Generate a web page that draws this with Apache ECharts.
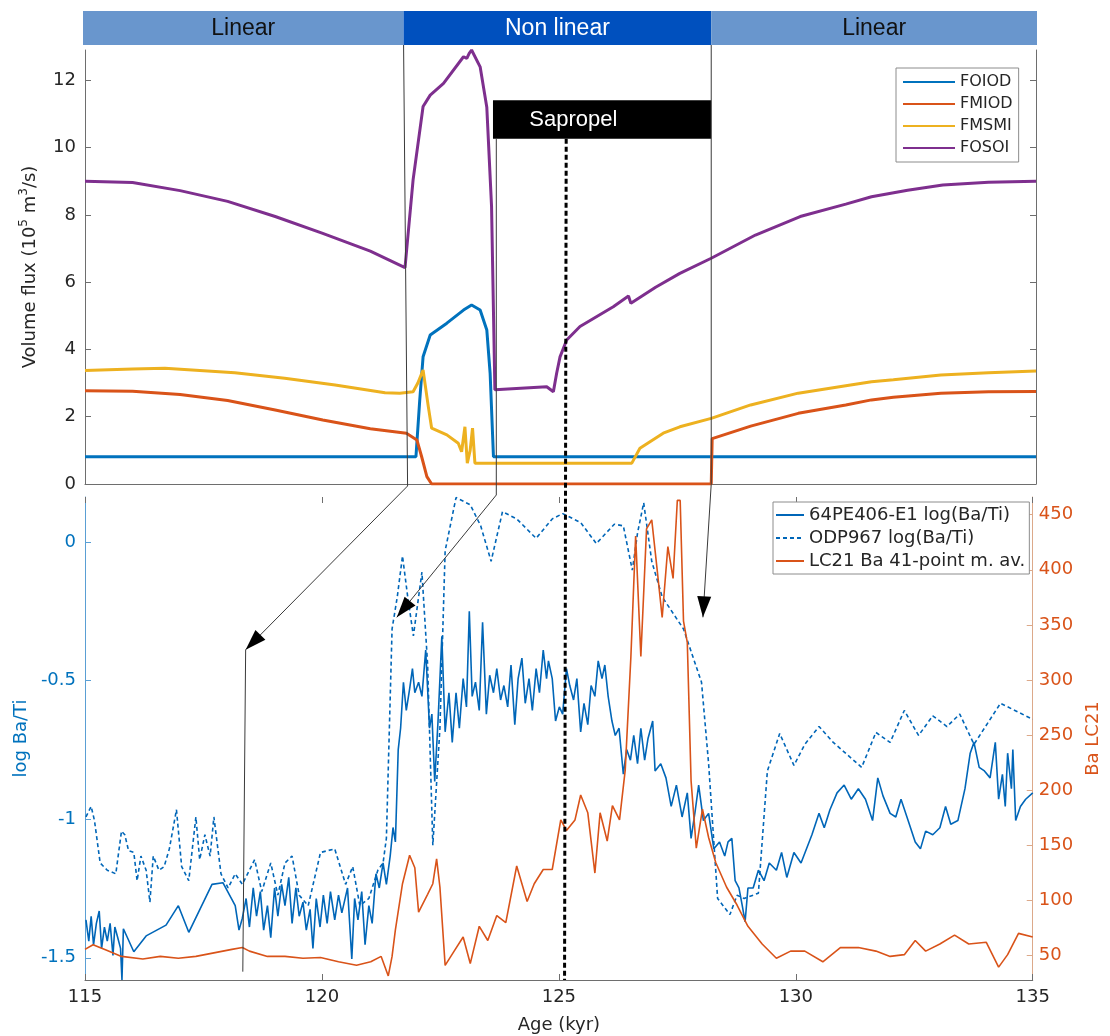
<!DOCTYPE html>
<html>
<head>
<meta charset="utf-8">
<script src="https://cdn.jsdelivr.net/npm/echarts@6/dist/echarts.min.js"></script>
<style>
html, body { margin: 0; padding: 0; background: #fff; }
#main { width: 1110px; height: 1036px; }
</style>
</head>
<body>
<div id="main"></div>
<script>
// 上图：体积通量 (10^5 m3/s)
var ageFOIOD = [115, 121.96, 122.04, 122.11, 122.26, 122.61, 122.96, 123.13, 123.31, 123.45, 123.52, 123.59, 135];
var valFOIOD = [0.81, 0.81, 2.5, 3.78, 4.43, 4.78, 5.17, 5.32, 5.17, 4.58, 3.29, 0.81, 0.81];

var ageFMIOD = [115, 116, 117, 118, 119, 120, 121, 121.76, 121.98, 122.08, 122.19, 122.29, 128.17, 128.19, 129, 130, 131, 131.54, 132, 133, 134, 135];
var valFMIOD = [2.77, 2.76, 2.66, 2.48, 2.2, 1.9, 1.64, 1.51, 1.31, 0.81, 0.22, 0, 0, 1.35, 1.72, 2.1, 2.35, 2.5, 2.58, 2.7, 2.74, 2.75];

var ageFMSMI = [115, 116, 116.68, 118.15, 119.2, 120.26, 121.31, 121.62, 121.9, 122.0, 122.11, 122.22, 122.29, 122.61, 122.85, 122.92, 122.99, 123.04, 123.1, 123.15, 123.2, 126.5, 126.67, 127.16, 127.51, 128.17, 129, 130, 131, 131.54, 132, 133, 134, 135];
var valFMSMI = [3.37, 3.42, 3.44, 3.31, 3.14, 2.94, 2.71, 2.7, 2.74, 3.0, 3.39, 2.3, 1.66, 1.46, 1.21, 0.96, 1.7, 0.62, 1.0, 1.66, 0.62, 0.62, 1.06, 1.51, 1.7, 1.95, 2.35, 2.7, 2.92, 3.04, 3.1, 3.24, 3.31, 3.36];

var ageFOSOI = [115, 116, 117, 118, 119, 120, 121, 121.73, 121.9, 122.11, 122.26, 122.54, 122.96, 123.03, 123.08, 123.13, 123.31, 123.45, 123.55, 123.62, 124.71, 124.85, 124.92, 124.99, 125.13, 125.41, 126.11, 126.43, 126.48, 127.0, 127.51, 128.17, 129.1, 130.04, 131, 131.54, 132.3, 133.04, 134, 135];
var valFOSOI = [9.0, 8.96, 8.72, 8.4, 7.95, 7.45, 6.92, 6.43, 9.04, 11.22, 11.56, 11.91, 12.7, 12.65, 12.8, 12.9, 12.4, 11.2, 8.25, 2.8, 2.89, 2.74, 3.3, 3.78, 4.28, 4.68, 5.27, 5.59, 5.37, 5.85, 6.26, 6.71, 7.4, 7.95, 8.32, 8.54, 8.73, 8.89, 8.97, 9.0];

// 下图：log(Ba/Ti) 与 LC21 Ba
var age64PE = [115.02, 115.08, 115.13, 115.18, 115.24, 115.30, 115.35, 115.41, 115.47, 115.53, 115.59, 115.63, 115.69, 115.75, 115.78, 115.81, 116.03, 116.29, 116.71, 116.97, 117.19, 117.68, 117.91, 118.17, 118.25, 118.32,
  118.40, 118.47, 118.55, 118.62, 118.70, 118.77, 118.85, 118.92, 119.00, 119.07, 119.15, 119.22, 119.30, 119.37, 119.45, 119.52, 119.60, 119.67, 119.75, 119.81, 119.88, 119.96, 120.03, 120.11, 120.18, 120.27, 120.35, 120.42, 120.54, 120.63, 120.69, 120.76, 120.84, 120.91, 120.99, 121.06, 121.14, 121.21, 121.29, 121.36, 121.44, 121.50, 121.55, 121.61, 121.66, 121.72, 121.78, 121.85, 121.91, 121.96,
  122.04, 122.11, 122.19, 122.27, 122.32, 122.38, 122.45, 122.53, 122.60, 122.68, 122.75, 122.83, 122.90, 122.98, 123.05, 123.11, 123.17, 123.24, 123.32, 123.39, 123.47, 123.54, 123.62, 123.69, 123.77, 123.84, 123.92, 123.99, 124.07, 124.14, 124.22, 124.29, 124.37, 124.44, 124.52, 124.59, 124.67, 124.74,
  124.78, 124.86, 124.93, 125.01, 125.08, 125.16, 125.23, 125.31, 125.38, 125.46, 125.53, 125.61, 125.68, 125.76, 125.83, 125.91, 125.97, 126.04, 126.12, 126.19, 126.27, 126.36, 126.43, 126.51, 126.58, 126.66, 126.73, 126.81, 126.88, 126.98, 127.03, 127.15, 127.26, 127.37, 127.48, 127.60, 127.71, 127.79, 127.88, 127.95, 128.05, 128.16, 128.27, 128.39, 128.50, 128.57, 128.65, 128.72, 128.80, 128.87, 128.93, 128.99,
  129.10, 129.21, 129.33, 129.44, 129.59, 129.70, 129.81, 129.96, 130.11, 130.34, 130.49, 130.60, 130.72, 130.87, 131.02, 131.17, 131.32, 131.47, 131.62, 131.73, 131.84, 131.99, 132.11, 132.22, 132.37, 132.52, 132.63, 132.74, 132.89, 133.04, 133.16, 133.27, 133.42, 133.57, 133.68, 133.76, 133.87, 133.98, 134.10, 134.21, 134.28, 134.36, 134.42, 134.47, 134.55, 134.58, 134.64, 134.74, 134.85, 135.00];
var val64PE = [-1.363, -1.44, -1.35, -1.453, -1.376, -1.331, -1.466, -1.389, -1.44, -1.376, -1.491, -1.389, -1.427, -1.466, -1.58, -1.395, -1.478, -1.421, -1.382, -1.312, -1.408, -1.235, -1.229, -1.312, -1.40, -1.357,
  -1.286, -1.389, -1.248, -1.35, -1.261, -1.40, -1.312, -1.427, -1.248, -1.35, -1.235, -1.312, -1.21, -1.376, -1.248, -1.35, -1.299, -1.40, -1.325, -1.466, -1.286, -1.389, -1.274, -1.376, -1.261, -1.363, -1.274, -1.338, -1.248, -1.504, -1.286, -1.363, -1.261, -1.453, -1.312, -1.376, -1.197, -1.248, -1.158, -1.235, -1.133, -1.03, -1.082, -0.749, -0.672, -0.506, -0.608, -0.531, -0.457, -0.544,
  -0.506, -0.557, -0.39, -0.672, -0.621, -0.864, -0.646, -0.34, -0.685, -0.544, -0.723, -0.544, -0.672, -0.493, -0.595, -0.25, -0.557, -0.506, -0.608, -0.29, -0.621, -0.481, -0.544, -0.457, -0.57, -0.518, -0.595, -0.444, -0.659, -0.493, -0.419, -0.582, -0.493, -0.608, -0.457, -0.544, -0.39, -0.493,
  -0.429, -0.493, -0.646, -0.595, -0.621, -0.457, -0.518, -0.57, -0.493, -0.685, -0.582, -0.659, -0.518, -0.557, -0.429, -0.493, -0.444, -0.557, -0.646, -0.698, -0.672, -0.838, -0.749, -0.787, -0.698, -0.80, -0.672, -0.787, -0.71, -0.646, -0.826, -0.80, -0.851, -0.954, -0.877, -0.992, -0.905, -1.069, -0.966, -0.877, -1.005, -0.979, -1.107, -1.082, -1.133, -1.082, -1.069, -1.222, -1.248, -1.312, -1.37, -1.248,
  -1.248, -1.184, -1.222, -1.158, -1.184, -1.12, -1.21, -1.12, -1.158, -1.056, -0.979, -1.031, -0.966, -0.905, -0.877, -0.928, -0.89, -0.928, -1.005, -0.851, -0.916, -0.979, -0.992, -0.928, -1.005, -1.082, -1.107, -1.043, -1.056, -1.031, -0.954, -1.018, -1.005, -0.89, -0.762, -0.723, -0.813, -0.826, -0.851, -0.723, -0.928, -0.838, -0.954, -0.762, -0.89, -0.749, -1.005, -0.954, -0.928, -0.905];

var ageODP = [115.02, 115.13, 115.20, 115.32, 115.47, 115.65, 115.77, 115.84, 115.92, 116.03, 116.10, 116.18, 116.29, 116.37, 116.44, 116.56, 116.67, 116.78, 116.93, 117.04, 117.19, 117.34, 117.42, 117.53, 117.64, 117.72, 117.87, 118.02, 118.17, 118.32, 118.47, 118.58, 118.73, 118.92, 119.07, 119.22, 119.37, 119.52, 119.71, 119.97, 120.27, 120.50, 120.65, 120.80, 120.99, 121.18, 121.29, 121.36,
  121.48, 121.59, 121.70, 121.81, 121.93, 122.04, 122.11, 122.23, 122.34, 122.49, 122.60, 122.83, 123.13, 123.35, 123.57, 123.81, 124.11, 124.52, 124.86, 125.08, 125.46, 125.79, 126.17, 126.36, 126.55, 126.66, 126.79, 126.96, 127.18, 127.63, 128.01, 128.16, 128.35, 128.61, 128.76, 128.91, 129.21,
  129.40, 129.66, 129.96, 130.19, 130.49, 130.79, 131.39, 131.69, 131.99, 132.29, 132.59, 132.89, 133.19, 133.46, 133.76, 134.32, 135.00];
var valODP = [-0.992, -0.954, -1.005, -1.158, -1.184, -1.197, -1.043, -1.056, -1.114, -1.12, -1.222, -1.133, -1.184, -1.299, -1.133, -1.184, -1.171, -1.107, -0.966, -1.171, -1.222, -0.992, -1.146, -1.056, -1.133, -0.992, -1.197, -1.248, -1.197, -1.235, -1.184, -1.146, -1.261, -1.158, -1.274, -1.158, -1.133, -1.274, -1.312, -1.12, -1.107, -1.235, -1.171, -1.312, -1.286, -1.184, -1.158, -1.069,
  -0.314, -0.198, -0.051, -0.198, -0.339, -0.198, -0.109, -0.442, -1.094, -0.672, -0.032, 0.16, 0.134, 0.058, -0.07, 0.109, 0.083, 0.013, 0.083, 0.102, 0.070, -0.006, 0.064, 0.058, -0.102, 0.032, 0.141, -0.070, -0.198, -0.314, -0.506, -0.80, -1.286, -1.344, -1.274, -1.286, -1.267,
  -0.826, -0.691, -0.806, -0.730, -0.666, -0.723, -0.813, -0.687, -0.723, -0.608, -0.698, -0.627, -0.666, -0.621, -0.730, -0.582, -0.640];

var ageLC21 = [115.00, 115.17, 115.47, 115.77, 116.22, 116.59, 116.97, 117.34, 117.72, 118.10, 118.32, 118.47, 118.85, 119.22, 119.60, 119.97, 120.35, 120.73, 121.03, 121.25, 121.40, 121.48, 121.55, 121.70, 121.85, 121.96, 122.04, 122.23, 122.34, 122.42, 122.49, 122.60, 122.79, 122.98, 123.13, 123.32, 123.50, 123.69, 123.88, 124.11, 124.33, 124.48, 124.67, 124.86,
  125.04, 125.16, 125.34, 125.46, 125.61, 125.76, 125.87, 126.02, 126.13, 126.28, 126.40, 126.52, 126.62, 126.73, 126.85, 126.96, 127.07, 127.18, 127.30, 127.41, 127.50, 127.56, 127.63, 127.71, 127.79, 127.90, 128.03, 128.16, 128.31, 128.54, 128.76, 128.99,
  129.29, 129.59, 129.89, 130.19, 130.57, 130.94, 131.32, 131.69, 131.99, 132.29, 132.52, 132.74, 133.04, 133.35, 133.65, 134.02, 134.28, 134.47, 134.70, 135.00];
var valLC21 = [55.8, 60, 54.8, 49.4, 47.1, 49.4, 47.7, 49.4, 52.6, 55.8, 57.4, 54.2, 49.4, 49.4, 47.7, 48.4, 44.5, 41.3, 44.5, 49.4, 31.7, 49.4, 73.5, 115.3, 141.1, 129.8, 89.6, 105.7, 115.3, 137.9, 112.1, 41.3, 54.2, 67, 42.9, 76.7, 63.8, 86.4, 80, 131.4, 99.2, 115.3, 128.2, 128.2,
  173.2, 163.6, 173.2, 195.8, 179.7, 125, 179.7, 154, 186.1, 173.2, 218.3, 321.3, 430.7, 321.3, 437.1, 445.2, 401.7, 356.7, 421, 392.1, 463, 462.9, 353.5, 334.2, 208.6, 147.5, 182.9, 157.2, 134.6, 112.1, 96, 76.7,
  60.6, 47.7, 54.2, 54.2, 44.5, 57.4, 57.4, 54.2, 49.4, 51, 63.8, 54.2, 60.6, 68.7, 60.6, 62.2, 39.7, 51, 70.3, 67];

var fluxTicks = [0, 2, 4, 6, 8, 10, 12];
var logTicks = [-1.5, -1, -0.5, 0];
var baTicks = [50, 100, 150, 200, 250, 300, 350, 400, 450];

// 注释：阶段边界、腐泥层
var phaseNames = ['Linear', 'Non linear', 'Linear'];
var phaseAges = [115, 121.7, 128.17, 135];
var sapropelAges = [123.58, 128.17];
var midSapropel = 125.12;

function pairs(a, v) {
    return a.map(function (x, i) { return [x, v[i]]; });
}

var fontAxis = 'DejaVu Sans';
var grey = '#262626';
var axisGrey = '#6e6e6e';

var myChart = echarts.init(document.getElementById('main'));
var option = {
    animation: false,
    backgroundColor: '#fff',
    grid: [
        {left: 85, width: 951, top: 50, height: 434},
        {left: 85, width: 951, top: 497, height: 483}
    ],
    legend: [
        {
            data: ['FOIOD', 'FMIOD', 'FMSMI', 'FOSOI'],
            orient: 'vertical', left: 896, top: 68,
            itemWidth: 52, itemHeight: 14, itemGap: 6,
            padding: [6, 6, 6, 6],
            itemStyle: {opacity: 0},
            borderColor: '#8c8c8c', borderWidth: 1, backgroundColor: '#fff',
            textStyle: {fontFamily: fontAxis, fontSize: 16, color: grey}
        },
        {
            data: ['64PE406-E1 log(Ba/Ti)', 'ODP967 log(Ba/Ti)', 'LC21 Ba 41-point m. av.'],
            orient: 'vertical', left: 773, top: 502,
            itemWidth: 28, itemHeight: 14, itemGap: 5,
            padding: [4, 4, 4, 2],
            itemStyle: {opacity: 0},
            borderColor: '#8c8c8c', borderWidth: 1, backgroundColor: '#fff',
            textStyle: {fontFamily: fontAxis, fontSize: 18, color: grey}
        }
    ],
    xAxis: [
        {
            type: 'value', gridIndex: 0, min: 115, max: 135,
            axisLine: {onZero: false, lineStyle: {color: axisGrey}},
            axisTick: {show: false}, axisLabel: {show: false}, splitLine: {show: false}
        },
        {
            type: 'value', gridIndex: 1, min: 115, max: 135, interval: 5,
            name: 'Age (kyr)', nameLocation: 'middle', nameGap: 36,
            nameTextStyle: {fontFamily: fontAxis, fontSize: 18, color: grey},
            axisLine: {onZero: false, lineStyle: {color: axisGrey}},
            axisTick: {inside: true, length: 6, lineStyle: {color: axisGrey}},
            axisLabel: {fontFamily: fontAxis, fontSize: 18, color: grey, margin: 8},
            splitLine: {show: false}
        },
        {
            type: 'value', gridIndex: 1, position: 'top', min: 115, max: 135, interval: 5,
            axisLine: {show: false, onZero: false},
            axisTick: {inside: true, length: 6, lineStyle: {color: axisGrey}},
            axisLabel: {show: false}, splitLine: {show: false}
        }
    ],
    yAxis: [
        {
            type: 'value', gridIndex: 0, min: 0, max: 12.9,
            name: 'Volume flux (10{sup|5} m{sup|3}/s)', nameLocation: 'middle', nameGap: 29,
            nameTextStyle: {
                fontFamily: fontAxis, fontSize: 18, color: grey, lineHeight: 24,
                rich: {sup: {fontFamily: fontAxis, fontSize: 12, color: grey, verticalAlign: 'top', lineHeight: 24, padding: [0, 0, 10, 0]}}
            },
            axisLine: {show: true, lineStyle: {color: axisGrey}},
            axisTick: {inside: true, length: 6, customValues: fluxTicks, lineStyle: {color: axisGrey}},
            axisLabel: {customValues: fluxTicks, fontFamily: fontAxis, fontSize: 18, color: grey, margin: 9},
            splitLine: {show: false}
        },
        {
            type: 'value', gridIndex: 0, position: 'right', min: 0, max: 12.9,
            axisLine: {show: true, lineStyle: {color: axisGrey}},
            axisTick: {inside: true, length: 6, customValues: fluxTicks, lineStyle: {color: axisGrey}},
            axisLabel: {show: false}, splitLine: {show: false}
        },
        {
            type: 'value', gridIndex: 1, min: -1.58, max: 0.162,
            name: 'log Ba/Ti', nameLocation: 'middle', nameGap: 52,
            nameTextStyle: {fontFamily: fontAxis, fontSize: 18, color: '#0072BD'},
            axisLine: {show: true, lineStyle: {color: '#5a9fd4'}},
            axisTick: {inside: true, length: 6, customValues: logTicks, lineStyle: {color: '#5a9fd4'}},
            axisLabel: {customValues: logTicks, fontFamily: fontAxis, fontSize: 18, color: '#0072BD', margin: 9},
            splitLine: {show: false}
        },
        {
            type: 'value', gridIndex: 1, position: 'right', min: 28, max: 466,
            name: 'Ba LC21', nameLocation: 'middle', nameGap: 50,
            nameTextStyle: {fontFamily: fontAxis, fontSize: 18, color: '#D95319'},
            axisLine: {show: true, lineStyle: {color: '#dca98a'}},
            axisTick: {inside: true, length: 6, customValues: baTicks, lineStyle: {color: '#dca98a'}},
            axisLabel: {customValues: baTicks, fontFamily: fontAxis, fontSize: 18, color: '#D95319', margin: 6},
            splitLine: {show: false}
        }
    ],
    series: [
        {name: 'FOIOD', type: 'line', xAxisIndex: 0, yAxisIndex: 0, symbol: 'none', color: '#0072BD', lineStyle: {width: 3}, data: pairs(ageFOIOD, valFOIOD)},
        {name: 'FMIOD', type: 'line', xAxisIndex: 0, yAxisIndex: 0, symbol: 'none', color: '#D95319', lineStyle: {width: 3}, data: pairs(ageFMIOD, valFMIOD)},
        {name: 'FMSMI', type: 'line', xAxisIndex: 0, yAxisIndex: 0, symbol: 'none', color: '#EDB120', lineStyle: {width: 3}, data: pairs(ageFMSMI, valFMSMI)},
        {name: 'FOSOI', type: 'line', xAxisIndex: 0, yAxisIndex: 0, symbol: 'none', color: '#7E2F8E', lineStyle: {width: 3}, data: pairs(ageFOSOI, valFOSOI)},
        {name: '64PE406-E1 log(Ba/Ti)', type: 'line', xAxisIndex: 1, yAxisIndex: 2, symbol: 'none', color: '#0066B8', lineStyle: {width: 1.6}, data: pairs(age64PE, val64PE)},
        {name: 'ODP967 log(Ba/Ti)', type: 'line', xAxisIndex: 1, yAxisIndex: 2, symbol: 'none', color: '#0066B8', lineStyle: {width: 1.6, type: [4, 3]}, data: pairs(ageODP, valODP)},
        {name: 'LC21 Ba 41-point m. av.', type: 'line', xAxisIndex: 1, yAxisIndex: 3, symbol: 'none', color: '#D95319', lineStyle: {width: 1.6}, data: pairs(ageLC21, valLC21)}
    ]
};
myChart.setOption(option);

// 注释层：用坐标轴换算像素
function top0(a, v) { return myChart.convertToPixel({xAxisIndex: 0, yAxisIndex: 0}, [a, v]); }
function bot1(a, v) { return myChart.convertToPixel({xAxisIndex: 1, yAxisIndex: 2}, [a, v]); }

function arrowHead(p0, tip) {
    var dx = tip[0] - p0[0], dy = tip[1] - p0[1];
    var len = Math.sqrt(dx * dx + dy * dy);
    dx /= len; dy /= len;
    var bx = tip[0] - dx * 21, by = tip[1] - dy * 21;
    return {
        type: 'polygon', z: 120,
        shape: {points: [tip, [bx - dy * 7, by + dx * 7], [bx + dy * 7, by - dx * 7]]},
        style: {fill: '#000'}
    };
}
function thin(points) {
    return {type: 'polyline', z: 110, shape: {points: points}, style: {stroke: '#3a3a3a', lineWidth: 1, fill: null}};
}

var g = [];
var barTop = 11, barBottom = 45;
var phaseColors = ['#6996CD', '#0050BE', '#6996CD'];
var phaseText = ['#111', '#fff', '#111'];
for (var i = 0; i < 3; i++) {
    var xa = top0(phaseAges[i], 0)[0] - (i === 0 ? 2 : 0);
    var xb = top0(phaseAges[i + 1], 0)[0] + (i === 2 ? 1 : 0);
    g.push({type: 'rect', z: 100, shape: {x: xa, y: barTop, width: xb - xa, height: barBottom - barTop}, style: {fill: phaseColors[i]}});
    g.push({type: 'text', z: 101, style: {x: (xa + xb) / 2, y: (barTop + barBottom) / 2 + 1, text: phaseNames[i], fill: phaseText[i], font: '23px "Liberation Sans", Arial, sans-serif', align: 'center', verticalAlign: 'middle'}});
}

// 腐泥层方框
var sA = top0(sapropelAges[0], 11.41), sB = top0(sapropelAges[1], 10.26);
g.push({type: 'rect', z: 100, shape: {x: sA[0], y: sA[1], width: sB[0] - sA[0], height: sB[1] - sA[1]}, style: {fill: '#000'}});
g.push({type: 'text', z: 101, style: {x: top0(125.27, 0)[0], y: (sA[1] + sB[1]) / 2, text: 'Sapropel', fill: '#fff', font: '22px "Liberation Sans", Arial, sans-serif', align: 'center', verticalAlign: 'middle'}});

// 中线（虚线）
var mTop = top0(midSapropel, 10.26), mBot = bot1(midSapropel, -1.58);
g.push({type: 'line', z: 105, shape: {x1: mTop[0], y1: mTop[1], x2: mBot[0], y2: mBot[1]}, style: {stroke: '#000', lineWidth: 3, lineDash: [5, 3]}});

// 边界连线与箭头
var zeroY = top0(115, 0)[1];
var b1 = top0(121.7, 0)[0], b2 = top0(123.65, 0)[0], b3 = top0(128.17, 0)[0];
var tip1 = bot1(118.39, -0.389), foot1 = bot1(118.33, -1.55);
var tip2 = bot1(121.58, -0.272);
var tip3 = bot1(128.04, -0.272);
var k1 = [b1 + 4, zeroY + 2], k2 = [b2, zeroY + 11], k3 = [b3, zeroY];
g.push(thin([[b1, barBottom], k1, tip1]));
g.push(thin([tip1, foot1]));
g.push(arrowHead(k1, tip1));
g.push(thin([[b2, sB[1]], k2, tip2]));
g.push(arrowHead(k2, tip2));
g.push(thin([[b3, barBottom], k3, tip3]));
g.push(arrowHead(k3, tip3));

myChart.setOption({graphic: g});
</script>
</body>
</html>
